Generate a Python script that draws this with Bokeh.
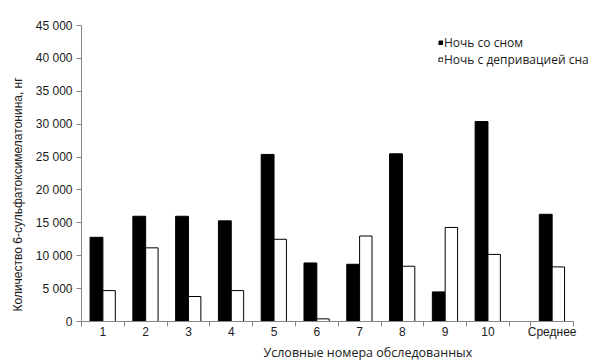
from bokeh.plotting import figure
from bokeh.models import (Range1d, FixedTicker, ColumnDataSource, Legend, LegendItem, Title)
from bokeh.transform import dodge
from bokeh.embed import file_html
from bokeh.resources import INLINE

# ---- data ----
categories = ["1", "2", "3", "4", "5", "6", "7", "8", "9", "10", "Среднее"]
sleep_night = [12800, 16000, 16000, 15300, 25400, 8900, 8700, 25500, 4500, 30400, 16300]
deprived_night = [4700, 11200, 3800, 4700, 12500, 400, 13000, 8400, 14300, 10200, 8300]
y_ticks = [0, 5000, 10000, 15000, 20000, 25000, 30000, 35000, 40000, 45000]
series_names = ["Ночь со сном", "Ночь с депривацией сна"]
x_title = "Условные номера обследованных"
y_title = "Количество 6-сульфатоксимелатонина, нг"

# slot layout: ten subjects, a half-width gap, then the mean
centers = [i + 0.5 for i in range(10)] + [11.0]
boundaries = list(range(11)) + [10.5, 11.5]
axis_end = 11.5
extra = 20 / 42.87  # room to the right of the axis for the legend

src = ColumnDataSource(dict(x=centers, a=sleep_night, b=deprived_night))

AXIS = "#868686"
TXT = "#1a1a1a"
p = figure(width=593, height=360, output_backend="svg", toolbar_location=None,
           x_range=Range1d(0, axis_end + extra), y_range=Range1d(0, 45000),
           min_border_left=80, min_border_right=0, min_border_top=25, min_border_bottom=36)
p.outline_line_color = None
p.xgrid.visible = False
p.ygrid.visible = False

r1 = p.vbar(x=dodge("x", -0.15, range=p.x_range), top="a", width=0.30, source=src,
            fill_color="black", line_color="black", line_width=1)
r2 = p.vbar(x=dodge("x", 0.145, range=p.x_range), top="b", width=0.29, source=src,
            fill_color="white", line_color="black", line_width=1)

# x axis
xa = p.xaxis[0]
xa.bounds = (0, axis_end)
xa.ticker = FixedTicker(ticks=centers, minor_ticks=boundaries)
xa.major_label_overrides = {c: lab for c, lab in zip(centers, categories)}
xa.major_tick_out = 0
xa.major_tick_in = 0
xa.minor_tick_out = 5
xa.minor_tick_in = 0
xa.minor_tick_line_color = AXIS
xa.axis_line_color = AXIS
xa.major_label_text_font = "Liberation Sans"
xa.major_label_text_font_size = "12px"
xa.major_label_text_color = TXT
xa.major_label_standoff = -2

# y axis
ya = p.yaxis[0]
ya.ticker = FixedTicker(ticks=y_ticks, minor_ticks=[])
ya.major_label_overrides = {t: f"{t:,}".replace(",", " ") for t in y_ticks}
ya.major_tick_out = 5
ya.major_tick_in = 0
ya.major_tick_line_color = AXIS
ya.axis_line_color = AXIS
ya.major_label_text_font = "Liberation Sans"
ya.major_label_text_font_size = "12px"
ya.major_label_text_color = TXT
ya.major_label_standoff = 4

# axis titles
p.add_layout(Title(text=x_title, align="left", offset=182, text_font="Open Sans",
                   text_font_size="12.5px", text_font_style="normal", text_color=TXT,
                   standoff=0), "below")
p.add_layout(Title(text=y_title, align="left", offset=10, text_font="Liberation Sans",
                   text_font_size="12px", text_font_style="normal", text_color=TXT,
                   standoff=16), "left")

legend = Legend(items=[LegendItem(label=series_names[0], renderers=[r1]),
                       LegendItem(label=series_names[1], renderers=[r2])],
                location=(357, 253), orientation="vertical",
                glyph_width=5, glyph_height=5, label_standoff=1, spacing=0,
                padding=0, margin=0, border_line_color=None, background_fill_alpha=0,
                label_text_font="Open Sans", label_text_font_size="12px",
                label_text_color=TXT, label_height=16)
p.add_layout(legend, "center")

open("out.html", "w").write(file_html(p, INLINE))
